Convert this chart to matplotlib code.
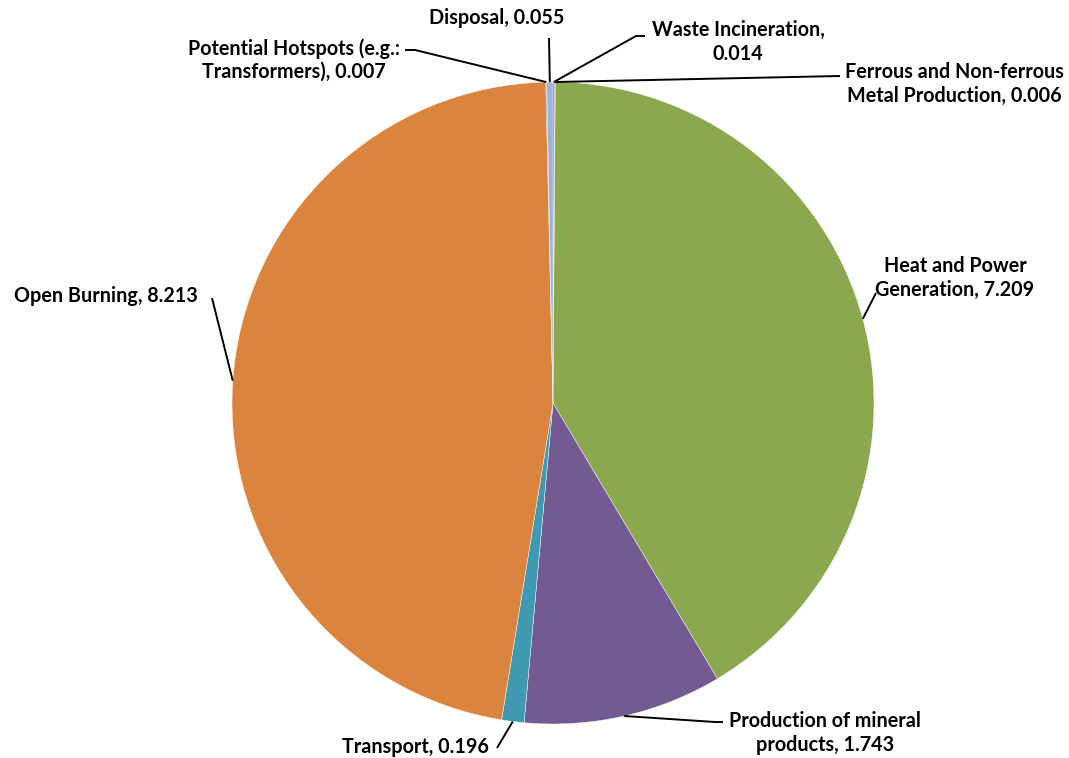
import numpy as np
import matplotlib.pyplot as plt

# emission sources, clockwise from 12 o'clock
sources = ["Waste Incineration", "Ferrous and Non-ferrous Metal Production",
           "Heat and Power Generation", "Production of mineral products",
           "Transport", "Open Burning", "Potential Hotspots (e.g.: Transformers)",
           "Disposal"]
values = [0.014, 0.006, 7.209, 1.743, 0.196, 8.213, 0.007, 0.055]
colors = ["#4F81BD", "#C0504D", "#8BA84F", "#735A92", "#3F9AB1", "#DB843D",
          "#2C4D75", "#9BB4D9"]

# label text as drawn (line breaks included)
label_text = [
    "Waste Incineration,\n0.014",
    "Ferrous and Non-ferrous\nMetal Production, 0.006",
    "Heat and Power\nGeneration, 7.209",
    "Production of mineral\nproducts, 1.743",
    "Transport, 0.196",
    "Open Burning, 8.213",
    "Potential Hotspots (e.g.:\nTransformers), 0.007",
    "Disposal, 0.055",
]

W, H = 1069, 758
cx, cy, R = 553, 403, 321

# label placement in pixels: (text x, text y, ha, leader elbow points)
layout = [
    (738, 42, "center", [(645, 36), (636, 36)]),
    (954, 84, "center", [(840, 76)]),
    (955, 278, "center", [(876, 293)]),
    (825, 733, "center", [(723, 722), (715, 722)]),
    (489, 747, "right", [(497, 748)]),
    (198, 296, "right", [(212, 298)]),
    (294, 60, "center", [(405, 50), (415, 50)]),
    (497, 18, "center", [(549, 38)]),
]

plt.rcParams["font.family"] = ["Lato", "DejaVu Sans"]

fig = plt.figure(figsize=(W / 100, H / 100), dpi=100)
ax = fig.add_axes([0, 0, 1, 1])


def Y(y):
    return H - y


ax.pie(values, colors=colors, startangle=90, counterclock=False,
       center=(cx, Y(cy)), radius=R, frame=True,
       wedgeprops=dict(edgecolor="white", linewidth=0.3))
ax.set_xlim(0, W)
ax.set_ylim(0, H)
ax.set_aspect("equal")
ax.axis("off")

total = sum(values)
cum = np.cumsum([0] + values)
for i, (txt, (tx, ty, ha, elbow)) in enumerate(zip(label_text, layout)):
    mid = (cum[i] + cum[i + 1]) / 2
    theta = np.deg2rad(90 - 360 * mid / total)
    ex = cx + R * np.cos(theta)
    ey = cy - R * np.sin(theta)
    pts = [(ex, ey)] + elbow[::-1]
    ax.plot([p[0] for p in pts], [Y(p[1]) for p in pts], color="black",
            lw=1.4, solid_capstyle="butt", zorder=5)
    ax.text(tx, Y(ty), txt, ha=ha, va="center", fontsize=14.2,
            fontweight="bold", linespacing=1.2, color="black")

fig.savefig("out.png", dpi=100)
